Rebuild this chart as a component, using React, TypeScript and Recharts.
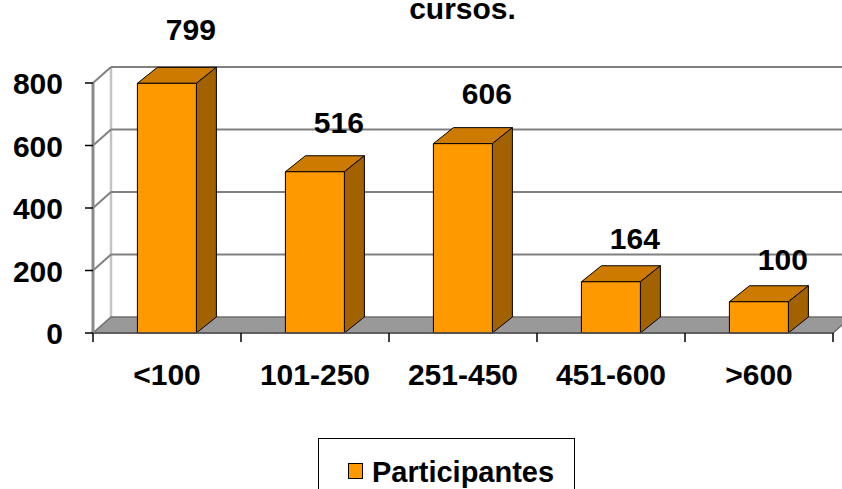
import {
  BarChart,
  Bar,
  XAxis,
  YAxis,
  CartesianGrid,
  Legend,
  LabelList,
} from 'recharts'

const categories = ['<100', '101-250', '251-450', '451-600', '>600']
const participantes = [799, 516, 606, 164, 100]
const yTicks = [0, 200, 400, 600, 800]

const data = categories.map((name, i) => ({ name, participantes: participantes[i] }))

const FONT = '"Liberation Sans", Arial, sans-serif'
// 3D depth offsets
const BAR_DX = 20
const BAR_DY = -16
const WALL_DX = 18
const WALL_DY = -16

const Bar3D = (props: any) => {
  const { x, y, width, height } = props
  if (height == null || height <= 0) return null
  const r = x + width
  const b = y + height
  return (
    <g stroke="#000" strokeWidth={1} strokeLinejoin="round">
      <polygon
        points={`${x},${y} ${x + BAR_DX},${y + BAR_DY} ${r + BAR_DX},${y + BAR_DY} ${r},${y}`}
        fill="#CC7A00"
      />
      <polygon
        points={`${r},${y} ${r + BAR_DX},${y + BAR_DY} ${r + BAR_DX},${b + BAR_DY} ${r},${b}`}
        fill="#A36200"
      />
      <rect x={x} y={y} width={width} height={height} fill="#FF9900" />
    </g>
  )
}

const GridLine = (props: any) => {
  const { x1, y1, x2, index, y: plotTop } = props
  const isFloor = index === 0
  const bx = x1 + WALL_DX
  return (
    <g key={`g-${index}`}>
      {isFloor && typeof plotTop === 'number' && (
        <line x1={bx} y1={y1 + WALL_DY} x2={bx} y2={plotTop + WALL_DY} stroke="#c4c4c4" strokeWidth={2.5} />
      )}
      {isFloor && (
        <polygon
          points={`${x1},${y1} ${x2},${y1} ${x2 + WALL_DX},${y1 + WALL_DY} ${bx},${y1 + WALL_DY}`}
          fill="#999999"
          stroke="#6e6e6e"
          strokeWidth={1.5}
        />
      )}
      {!isFloor && (
        <>
          <line x1={x1} y1={y1} x2={bx} y2={y1 + WALL_DY} stroke="#808080" strokeWidth={2} />
          <line x1={bx} y1={y1 + WALL_DY} x2={x2 + WALL_DX} y2={y1 + WALL_DY} stroke="#808080" strokeWidth={2} />
        </>
      )}
    </g>
  )
}

const XTick = (props: any) => {
  const { x, y, payload, index, width, visibleTicksCount } = props
  const band = (width || 739) / (visibleTicksCount || 5)
  const left = x - band / 2
  const right = x + band / 2
  return (
    <g>
      <line x1={left} y1={y} x2={left} y2={y + 9} stroke="#000" strokeWidth={1.5} />
      {index === (visibleTicksCount || 5) - 1 && (
        <line x1={right} y1={y} x2={right} y2={y + 9} stroke="#000" strokeWidth={1.5} />
      )}
      <text
        x={x}
        y={y + 52}
        textAnchor="middle"
        fontFamily={FONT}
        fontWeight="bold"
        fontSize={30}
        fill="#000"
      >
        {payload.value}
      </text>
    </g>
  )
}

const YTick = (props: any) => {
  const { x, y, payload } = props
  return (
    <text
      x={x}
      y={y}
      dy={11}
      textAnchor="end"
      fontFamily={FONT}
      fontWeight="bold"
      fontSize={30}
      fill="#000"
    >
      {payload.value}
    </text>
  )
}

const ValueLabel = (props: any) => {
  const { x, y, width, value } = props
  const lift = 32 + (11 * Math.max(0, value - 100)) / 700
  return (
    <text
      x={x + width / 2 + 24}
      y={y - lift}
      textAnchor="middle"
      fontFamily={FONT}
      fontWeight="bold"
      fontSize={30}
      fill="#000"
    >
      {value}
    </text>
  )
}

const LegendBox = () => (
  <div
    style={{
      width: 257,
      height: 60,
      border: '1.5px solid #000',
      boxSizing: 'border-box',
      display: 'flex',
      alignItems: 'flex-start',
      paddingLeft: 29,
      paddingTop: 19,
      fontFamily: FONT,
      fontWeight: 'bold',
      fontSize: 29,
      color: '#000',
      background: '#fff',
    }}
  >
    <span
      style={{
        display: 'inline-block',
        width: 13,
        height: 14,
        background: '#FF9900',
        border: '1px solid #000',
        marginTop: 5,
        marginRight: 9,
      }}
    />
    <span style={{ lineHeight: '28px' }}>Participantes</span>
  </div>
)

export default function App() {
  return (
    <div style={{ position: 'absolute', left: 0, top: 0, width: 842, height: 489, overflow: 'hidden', background: '#fff' }}>
      <div
        style={{
          position: 'absolute',
          left: 0,
          width: 925,
          top: -6,
          textAlign: 'center',
          fontFamily: FONT,
          fontWeight: 'bold',
          fontSize: 30,
          lineHeight: '30px',
          color: '#000',
        }}
      >
        cursos.
      </div>
      <BarChart
        width={842}
        height={489}
        data={data}
        margin={{ top: 83, right: 9, bottom: 0, left: 0 }}
        barCategoryGap="30%"
        style={{ position: 'absolute', left: 0, top: 0 }}
      >
        <CartesianGrid vertical={false} horizontal={GridLine} />
        <XAxis
          dataKey="name"
          axisLine={{ stroke: '#555', strokeWidth: 1.5 }}
          tickLine={false}
          tickSize={0}
          tickMargin={0}
          tick={<XTick />}
          interval={0}
          height={156}
        />
        <YAxis
          domain={[0, 800]}
          ticks={yTicks}
          width={93}
          axisLine={{ stroke: '#8a8a8a', strokeWidth: 3 }}
          tickLine={{ stroke: '#000', strokeWidth: 1.5 }}
          tickSize={8}
          tickMargin={22}
          tick={<YTick />}
        />
        <Legend
          layout="vertical"
          align="center"
          verticalAlign="middle"
          content={<LegendBox />}
          wrapperStyle={{ position: 'absolute', left: 318, top: 438, width: 257 }}
        />
        <Bar
          dataKey="participantes"
          name="Participantes"
          shape={<Bar3D />}
          isAnimationActive={false}
        >
          <LabelList dataKey="participantes" content={<ValueLabel />} />
        </Bar>
      </BarChart>
    </div>
  )
}
